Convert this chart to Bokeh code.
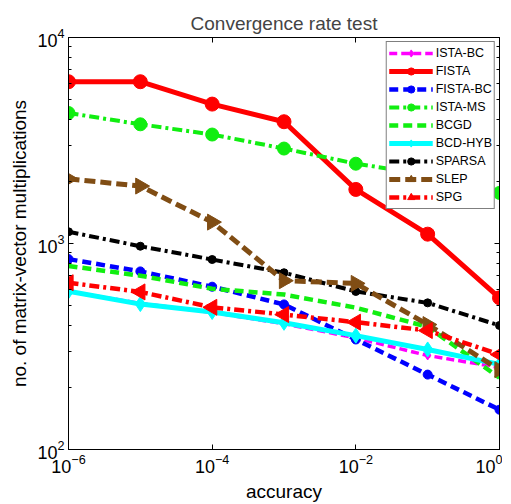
from bokeh.plotting import figure
from bokeh.models import LogAxis, FixedTicker, Legend, LegendItem
from bokeh.embed import file_html
from bokeh.resources import INLINE
import math

accuracy = [1e-6, 1e-5, 1e-4, 1e-3, 1e-2, 1e-1, 1e0]

ista_bc = [585, 512, 463, 408, 348, 286, 250]
fista = [6100, 6100, 4750, 3900, 1830, 1110, 545]
fista_bc = [840, 732, 617, 506, 342, 231, 156]
ista_ms = [4300, 3790, 3380, 2890, 2440, 2160, 1760]
bcgd = [778, 698, 603, 565, 488, 394, 223]
bcd_hyb = [586, 508, 465, 412, 357, 306, 259]
sparsa = [1140, 970, 836, 721, 585, 515, 400]
slep = [2060, 1900, 1270, 660, 640, 404, 244]
spg = [645, 582, 490, 452, 415, 378, 289]

x_ticks = [1e-6, 1e-4, 1e-2, 1e0]
y_ticks = [1e2, 1e3, 1e4]
y_minor = [k * 10 ** e for e in (2, 3) for k in range(2, 10)]

FONT = "Liberation Sans"

p = figure(frame_width=431, frame_height=412, x_axis_type="log", y_axis_type="log",
           x_range=(1e-6, 1e0), y_range=(1e2, 1e4),
           output_backend="svg", toolbar_location=None,
           min_border_left=68, min_border_right=3, min_border_top=37, min_border_bottom=48,
           title="Convergence rate test")
p.grid.visible = False
p.outline_line_color = "black"
p.outline_line_width = 1
p.background_fill_color = "white"
p.border_fill_color = "white"

p.title.align = "center"
p.title.text_font = FONT
p.title.text_font_size = "19px"
p.title.text_font_style = "normal"
p.title.standoff = 7

xt = FixedTicker(ticks=x_ticks, minor_ticks=[])
yt = FixedTicker(ticks=y_ticks, minor_ticks=y_minor)

for ax in p.xaxis:
    ax.ticker = xt
    ax.axis_label = "accuracy"
    ax.axis_label_standoff = 5
for ax in p.yaxis:
    ax.ticker = yt
    ax.axis_label = "no. of matrix-vector multiplications"
    ax.axis_label_standoff = 4

for ax in list(p.xaxis) + list(p.yaxis):
    ax.major_tick_in = 5
    ax.major_tick_out = 0
    ax.minor_tick_in = 3
    ax.minor_tick_out = 0
    ax.axis_line_color = "black"
    ax.major_tick_line_color = "black"
    ax.minor_tick_line_color = "black"
    ax.major_label_text_font = FONT
    ax.major_label_text_font_size = "18px"
    ax.major_label_text_color = "black"
    ax.axis_label_text_font = FONT
    ax.axis_label_text_font_size = "19px"
    ax.axis_label_text_font_style = "normal"
    ax.axis_label_text_color = "black"
    ax.major_label_standoff = 4

# box ticks on top and right (labels invisible)
top = LogAxis(ticker=xt, major_tick_in=5, major_tick_out=0, minor_tick_in=0, minor_tick_out=0,
              major_label_text_font_size="1px", major_label_text_alpha=0, major_label_standoff=0)
right = LogAxis(ticker=yt, major_tick_in=5, major_tick_out=0, minor_tick_in=3, minor_tick_out=0,
                major_label_text_font_size="1px", major_label_text_alpha=0, major_label_standoff=0)
p.add_layout(top, "above")
p.add_layout(right, "right")

series = [
    ("ISTA-BC", ista_bc, "#ff00ff", "8 4", 3.5, "diamond", 9, 0),
    ("FISTA", fista, "#ff0000", "solid", 5, "circle", 14, 0),
    ("FISTA-BC", fista_bc, "#0000ff", "9 5", 4.5, "circle", 9, 0),
    ("ISTA-MS", ista_ms, "#11ee11", "10 4 3 4", 4, "circle", 13, 0),
    ("BCGD", bcgd, "#11ee11", "9 5", 4.5, None, 0, 0),
    ("BCD-HYB", bcd_hyb, "#00ffff", "solid", 5, "diamond", 15, 0),
    ("SPARSA", sparsa, "#000000", "10 4 3 4", 4, "circle", 8, 0),
    ("SLEP", slep, "#804d14", "11 5", 5, "triangle", 16, -math.pi / 2),
    ("SPG", spg, "#ff0000", "10 4 3 4", 4.5, "triangle", 16, math.pi / 2),
]

items = []
for label, ys, color, dash, lw, marker, size, ang in series:
    rs = [p.line(accuracy, ys, line_color=color, line_width=lw, line_dash=dash)]
    if marker:
        rs.append(p.scatter(accuracy, ys, marker=marker, size=size, angle=ang,
                            fill_color=color, line_color=color))
    items.append(LegendItem(label=label, renderers=rs))

legend = Legend(items=items, location="top_right")
legend.label_text_font = FONT
legend.label_text_font_size = "12.5px"
legend.label_text_color = "black"
legend.glyph_width = 44
legend.glyph_height = 18
legend.label_height = 18
legend.spacing = 0
legend.padding = 2
legend.margin = 4
legend.label_standoff = 3
legend.border_line_color = "black"
legend.border_line_width = 1
legend.background_fill_alpha = 1
p.add_layout(legend, "center")

open("out.html", "w").write(file_html(p, INLINE))
